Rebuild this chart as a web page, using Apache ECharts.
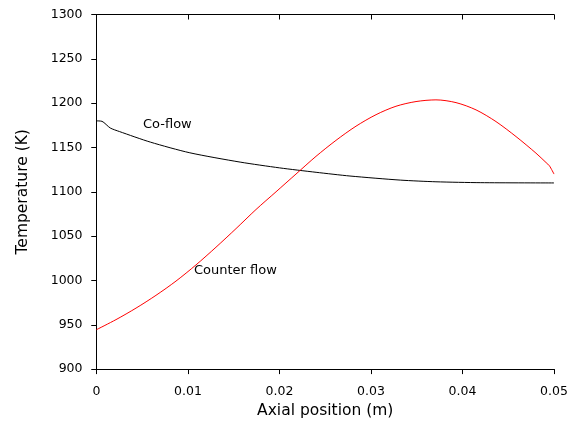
<!DOCTYPE html>
<html>
<head>
<meta charset="utf-8">
<script src="https://cdn.jsdelivr.net/npm/echarts@6/dist/echarts.min.js"></script>
<style>
html,body{margin:0;padding:0;background:#fff;}
#c{width:579px;height:424px;}
</style>
</head>
<body>
<div id="c"></div>
<script>
// Co-flow (black)
const coX = [0, 0.0006, 0.0015, 0.0025, 0.0059, 0.0102, 0.0157, 0.0200, 0.0240, 0.0277, 0.0332, 0.0371, 0.0420, 0.0500];
const coT = [1180, 1179.5, 1172, 1168, 1156, 1144, 1133.5, 1127, 1122, 1117.8, 1113.2, 1111.3, 1110.3, 1110];
// Counter flow (red)
const cfX = [0, 0.00213, 0.00432, 0.0065, 0.00869, 0.01087, 0.01306, 0.01525, 0.01743, 0.01962, 0.02180, 0.02399,
             0.02617, 0.02836, 0.03055, 0.03273, 0.03492, 0.0371, 0.03929, 0.04148, 0.04366, 0.04585, 0.04803,
             0.04913, 0.0495, 0.0500];
const cfT = [944.5, 955.8, 968.8, 983.2, 999.3, 1017.5, 1037.5, 1058.5, 1080, 1100, 1120, 1140,
             1158, 1174, 1187, 1196.5, 1201.8, 1203.7, 1200.6, 1192.4, 1179.2, 1162.3, 1143.6,
             1133, 1129.3, 1120];
const xTicks = {min: 0, max: 0.05, interval: 0.01};
const yTicks = {min: 900, max: 1300, interval: 50};
const labels = [
  {text: 'Co-flow', x: 143, y: 125.5},
  {text: 'Counter flow', x: 194, y: 271}
];

const font = 'DejaVu Sans';
const chart = echarts.init(document.getElementById('c'), null, {renderer: 'canvas'});
const zip = (xs, ys) => xs.map((v, i) => [v, ys[i]]);
const axisLine = {show: true, lineStyle: {color: '#000', width: 1}};
chart.setOption({
  animation: false,
  backgroundColor: '#fff',
  grid: {left: 96.5, right: 25, top: 14.5, bottom: 54.5, containLabel: false},
  xAxis: [{
    type: 'value', position: 'bottom', min: xTicks.min, max: xTicks.max, interval: xTicks.interval,
    name: 'Axial position (m)', nameLocation: 'middle', nameGap: 33,
    nameTextStyle: {fontFamily: font, fontSize: 15.5, color: '#000'},
    axisLine: axisLine, axisTick: {show: true, inside: false, length: 5, lineStyle: {color: '#000'}},
    axisLabel: {fontFamily: font, fontSize: 12.5, color: '#000', margin: 16,
      formatter: v => (v === 0 ? '0' : String(+v.toFixed(2)))},
    splitLine: {show: false}
  }, {
    type: 'value', position: 'top', min: xTicks.min, max: xTicks.max, interval: xTicks.interval,
    axisLine: axisLine, axisTick: {show: true, inside: true, length: 5, lineStyle: {color: '#000'}},
    axisLabel: {show: false}, splitLine: {show: false}
  }],
  yAxis: [{
    type: 'value', position: 'left', min: yTicks.min, max: yTicks.max, interval: yTicks.interval,
    name: 'Temperature (K)', nameLocation: 'middle', nameGap: 66, nameRotate: 90,
    nameTextStyle: {fontFamily: font, fontSize: 15.5, color: '#000'},
    axisLine: axisLine, axisTick: {show: true, inside: false, length: 5, lineStyle: {color: '#000'}},
    axisLabel: {fontFamily: font, fontSize: 12.5, color: '#000', margin: 14, formatter: v => String(v)},
    splitLine: {show: false}
  }, {
    type: 'value', position: 'right', min: yTicks.min, max: yTicks.max, interval: yTicks.interval,
    axisLine: axisLine, axisTick: {show: true, inside: true, length: 5, lineStyle: {color: '#000'}},
    axisLabel: {show: false}, splitLine: {show: false}
  }],
  series: [{
    name: 'Co-flow', type: 'line', xAxisIndex: 0, yAxisIndex: 0,
    data: zip(coX, coT), showSymbol: false, smooth: 0.25,
    lineStyle: {color: '#000', width: 1}, itemStyle: {color: '#000'}
  }, {
    name: 'Counter flow', type: 'line', xAxisIndex: 0, yAxisIndex: 0,
    data: zip(cfX, cfT), showSymbol: false, smooth: 0.3,
    lineStyle: {color: '#ff0000', width: 1}, itemStyle: {color: '#ff0000'}
  }],
  graphic: labels.map(l => ({
    type: 'text', left: l.x, top: l.y - 7,
    style: {text: l.text, fontFamily: font, fontSize: 13, fill: '#000'}
  }))
});
</script>
</body>
</html>
